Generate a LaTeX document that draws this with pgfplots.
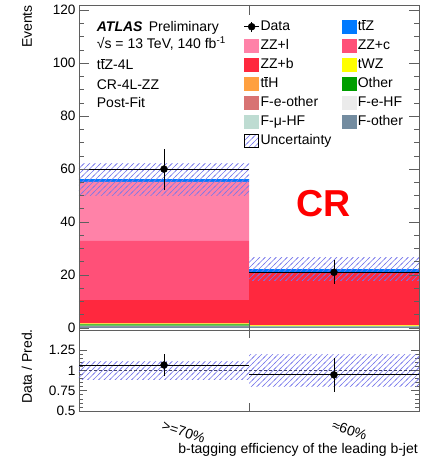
\documentclass[border=0pt]{standalone}
\usepackage{pgfplots}
\pgfplotsset{compat=1.18}
\usetikzlibrary{patterns.meta}
\usepackage{fontspec}
\setmainfont{Liberation Sans}

\definecolor{cttZ}{RGB}{0,122,255}
\definecolor{cZZl}{RGB}{255,130,168}
\definecolor{cZZc}{RGB}{255,80,120}
\definecolor{cZZb}{RGB}{255,40,62}
\definecolor{ctWZ}{RGB}{255,255,0}
\definecolor{cttH}{RGB}{255,160,64}
\definecolor{cOther}{RGB}{0,158,0}
\definecolor{cFeo}{RGB}{216,115,115}
\definecolor{cFeHF}{RGB}{235,235,235}
\definecolor{cFmHF}{RGB}{190,220,210}
\definecolor{cFo}{RGB}{115,140,160}
\definecolor{frame}{RGB}{95,95,95}
\definecolor{dashc}{RGB}{70,70,110}

% coloured hatch; colour set as a raw pdf literal so that it survives inside the pattern
\makeatletter
\tikzdeclarepattern{
  name=unch, type=colored,
  bottom left={(-1pt,-1pt)}, top right={(6.5pt,6.5pt)},
  tile size={(5.5pt,5.5pt)},
  code={\pgfsys@color@rgb@stroke{0.47}{0.47}{0.92}\pgfsetlinewidth{0.5pt}%
    \pgfpathmoveto{\pgfpoint{-1pt}{-1pt}}\pgfpathlineto{\pgfpoint{6.5pt}{6.5pt}}%
    \pgfusepath{stroke}}
}
\makeatother

% t with a bar on top
\newcommand\tb{\mbox{\ooalign{t\cr\hidewidth\rule[0.70em]{0.28em}{0.06em}\hidewidth\cr}}}

\pgfplotsset{
  common/.style={scale only axis, width=340pt, xmin=0, xmax=2,
    axis line style={frame, line width=0.8pt},
    tick style={frame, line width=0.7pt},
    tick label style={font=\fontsize{13.6}{16}\selectfont},
    label style={font=\fontsize{14}{16}\selectfont},
    /pgf/number format/assume math mode=true,
    tick align=inside},
  boxleg/.style={legend image code/.code={\fill[#1] (0pt,-6.5pt) rectangle (14pt,6.5pt);}},
  unc/.style={draw=none, pattern=unch},
  dat/.style={black, only marks, mark=*, mark size=3.5pt,
    /pgfplots/error bars/x dir=both, /pgfplots/error bars/x explicit,
    /pgfplots/error bars/y dir=both, /pgfplots/error bars/y explicit,
    /pgfplots/error bars/error mark=none,
    /pgfplots/error bars/error bar style={line width=0.8pt, black}},
}

\begin{document}
\begin{tikzpicture}
\useasboundingbox (-79pt,5pt) rectangle (344pt,-457pt);

% stacked backgrounds
\begin{axis}[scale only axis, width=340pt, height=325pt, at={(0,0)}, anchor=north west,
  xmin=0, xmax=2, ymin=-0.8, ymax=122, axis lines=none,
  ybar stacked, bar width=1]
  \addplot[fill=cFo, draw=none]    coordinates {(0.5,0.60) (1.5,0.50)};
  \addplot[fill=cFmHF, draw=none]  coordinates {(0.5,0.10) (1.5,0.05)};
  \addplot[fill=cFeHF, draw=none]  coordinates {(0.5,0.10) (1.5,0.05)};
  \addplot[fill=cFeo, draw=none]   coordinates {(0.5,0.05) (1.5,0.00)};
  \addplot[fill=cOther, draw=none] coordinates {(0.5,0.45) (1.5,0.05)};
  \addplot[fill=ctWZ, draw=none]   coordinates {(0.5,0.30) (1.5,0.30)};
  \addplot[fill=cttH, draw=none]   coordinates {(0.5,0.20) (1.5,0.05)};
  \addplot[fill=cZZb, draw=none]   coordinates {(0.5,8.70) (1.5,19.70)};
  \addplot[fill=cZZc, draw=none]   coordinates {(0.5,22.40) (1.5,0.25)};
  \addplot[fill=cZZl, draw=none]   coordinates {(0.5,22.30) (1.5,0.05)};
  \addplot[fill=cttZ, draw=none]   coordinates {(0.5,1.00) (1.5,1.20)};
\end{axis}

\begin{axis}[common, name=main, height=325pt, at={(0,0)}, anchor=north west,
  ymin=-0.8, ymax=122, axis on top,
  xtick={1}, xticklabels={}, ytick={0,20,...,120}, minor y tick num=3,
  major tick length=10pt, minor tick length=5pt,
  ylabel={Events},
  ylabel style={at={([xshift=-47pt]axis description cs:0,1)}, anchor=base east, inner sep=0pt},
  legend columns=2,
  legend cell align=left,
  legend style={at={(0.475,0.963)}, anchor=north west, draw=none, fill=none,
    font=\fontsize{14}{16}\selectfont, row sep=4pt,
    nodes={inner sep=1pt, text height=10pt, text depth=3pt},
    /tikz/every even column/.append style={column sep=10pt}},
  ]
  \addplot[unc, forget plot] coordinates {(0,50.1) (1,50.1) (1,62.3) (0,62.3)};
  \addplot[unc, forget plot] coordinates {(1,17.8) (2,17.8) (2,26.6) (1,26.6)};
  \addplot[legend image code/.code={
      \draw[black, line width=0.9pt] (0pt,0pt) -- (15pt,0pt) (7.5pt,-5pt) -- (7.5pt,5pt);
      \fill[black] (7.5pt,0pt) circle (3.5pt);}, dat]
    coordinates {(0.5,60) +- (0.5,7.75) (1.5,21) +- (0.5,4.6)};
  \addlegendentry{Data}
  \addlegendimage{boxleg=cttZ}   \addlegendentry{t\tb Z}
  \addlegendimage{boxleg=cZZl}   \addlegendentry{ZZ+l}
  \addlegendimage{boxleg=cZZc}   \addlegendentry{ZZ+c}
  \addlegendimage{boxleg=cZZb}   \addlegendentry{ZZ+b}
  \addlegendimage{boxleg=ctWZ}   \addlegendentry{tWZ}
  \addlegendimage{boxleg=cttH}   \addlegendentry{t\tb H}
  \addlegendimage{boxleg=cOther} \addlegendentry{Other}
  \addlegendimage{boxleg=cFeo}   \addlegendentry{F-e-other}
  \addlegendimage{boxleg=cFeHF}  \addlegendentry{F-e-HF}
  \addlegendimage{boxleg=cFmHF}  \addlegendentry{F-μ-HF}
  \addlegendimage{boxleg=cFo}    \addlegendentry{F-other}
  \addlegendimage{boxleg={pattern=unch}}
  \addlegendentry{Uncertainty}

  \begin{scope}[every node/.style={anchor=base west, inner sep=0pt, font=\fontsize{14}{16}\selectfont}]
    \node at (rel axis cs:0.052,0.918) {\textbf{\itshape ATLAS}\hspace{0.45em}Preliminary};
    \node at (rel axis cs:0.052,0.865) {√s = 13 TeV, 140 fb\textsuperscript{-1}};
    \node at (rel axis cs:0.052,0.802) {t\tb Z-4L};
    \node at (rel axis cs:0.052,0.741) {CR-4L-ZZ};
    \node at (rel axis cs:0.052,0.685) {Post-Fit};
  \end{scope}
  \node[anchor=base west, inner sep=0pt, text=red, font=\fontsize{37.5}{40}\selectfont\bfseries]
    at (rel axis cs:0.638,0.3477) {CR};
\end{axis}

\begin{axis}[common, name=ratio, height=81pt, at={(main.south west)}, anchor=north west,
  ymin=0.5, ymax=1.5, ytick={0.5,0.75,1,1.25}, yticklabels={0.5,0.75,1,1.25},
  minor y tick num=4, major tick length=8pt, minor tick length=4pt,
  xtick={1}, xticklabels={},
  extra x ticks={0.5,1.5}, extra x tick labels={>=70\%,≈60\%},
  extra x tick style={major tick length=0pt,
    xticklabel style={font=\fontsize{14}{16}\selectfont, anchor=north west, inner sep=0pt,
      yshift=-9pt, rotate=-18}},
  ylabel={Data / Pred.},
  ylabel style={at={([xshift=-47pt]axis description cs:0,0.55)}, anchor=base, inner sep=0pt},
  xlabel={b-tagging efficiency of the leading b-jet},
  xlabel style={at={([xshift=-1pt,yshift=-42.5pt]axis description cs:1,0)}, anchor=base east, inner sep=0pt},
  ]
  \addplot[unc] coordinates {(0,0.891) (1,0.891) (1,1.109) (0,1.109)};
  \addplot[unc] coordinates {(1,0.80) (2,0.80) (2,1.20) (1,1.20)};
  \addplot[dashc, line width=1.2pt, dash pattern=on 3pt off 2pt] coordinates {(0,1) (2,1)};
  \addplot[dat] coordinates {(0.5,1.068) +- (0.5,0.138) (1.5,0.946) +- (0.5,0.207)};
\end{axis}
\end{tikzpicture}
\end{document}
